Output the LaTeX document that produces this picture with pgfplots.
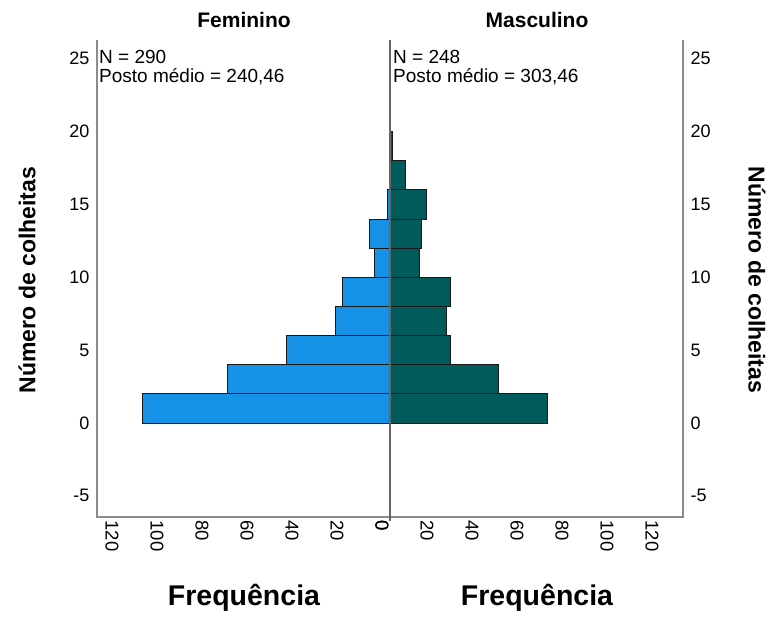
\documentclass[border=0pt]{standalone}
\usepackage{fontspec}
\setmainfont{Liberation Sans}
\usepackage{pgfplots}
\pgfplotsset{compat=1.18}

\definecolor{fem}{HTML}{1591E6}
\definecolor{masc}{HTML}{005B5A}
\definecolor{framegray}{HTML}{8C8C8C}
\definecolor{midgray}{HTML}{666666}

\newcommand{\fs}[1]{\fontsize{#1}{#1}\selectfont}

\pgfplotsset{
  pyramid/.style={
    scale only axis, width=293pt, height=477pt,
    xmin=0, xmax=130.2, ymin=-6.45, ymax=26.29,
    xtick={0,20,...,120}, ytick={-5,0,...,25},
    major tick length=0pt,
    separate axis lines,
    axis line style={draw=none},
    tick label style={font=\fs{18}},
    /pgf/number format/assume math mode=true,
    xticklabel style={font=\fs{18.5}, rotate=-90, anchor=west, yshift=-8pt},
    clip=false,
  },
  barstyle/.style={xbar, bar width=2, draw=black!90, line width=1pt},
}

\begin{document}
\begin{tikzpicture}
\path[use as bounding box] (0pt,0pt) rectangle (770pt,616pt);

% Feminino (left half, frequency grows to the left)
\begin{axis}[pyramid, at={(97pt,99pt)}, anchor=south west, x dir=reverse,
    yticklabel style={xshift=-4pt}]
  \addplot[barstyle, fill=fem] coordinates {
    (110,1) (72,3) (46,5) (24,7) (21,9) (7,11) (9,13) (1,15)
  };
  \draw[framegray, line width=1.2pt]
    (axis description cs:0,1) -- (axis description cs:0,0) -- (axis description cs:1,0);
\end{axis}

% Masculino (right half)
\begin{axis}[pyramid, at={(390pt,99pt)}, anchor=south west,
    yticklabel pos=right, yticklabel style={xshift=4pt}]
  \addplot[barstyle, fill=masc] coordinates {
    (70,1) (48,3) (27,5) (25,7) (27,9) (13,11) (14,13) (16,15) (7,17) (1,19)
  };
  \draw[framegray, line width=1.2pt]
    (axis description cs:0,0) -- (axis description cs:1,0) -- (axis description cs:1,1);
  \draw[midgray, line width=1.4pt]
    ([yshift=-4pt]axis description cs:0,0) -- (axis description cs:0,1);
\end{axis}

% Panel titles
\node[font=\fs{21}\bfseries] at (244pt,596pt) {Feminino};
\node[font=\fs{21}\bfseries] at (537pt,596pt) {Masculino};

% Group statistics
\node[anchor=north west, inner sep=0pt, align=left, font=\fs{19}]
  at (99pt,566pt) {N = 290\\[0pt]Posto médio = 240,46};
\node[anchor=north west, inner sep=0pt, align=left, font=\fs{19}]
  at (393pt,566pt) {N = 248\\[0pt]Posto médio = 303,46};

% Axis titles
\node[rotate=90, font=\fs{23}\bfseries] at (27pt,336pt) {Número de colheitas};
\node[rotate=-90, font=\fs{23}\bfseries] at (757pt,336pt) {Número de colheitas};
\node[font=\fs{28.5}\bfseries] at (244pt,18pt) {Frequência};
\node[font=\fs{28.5}\bfseries] at (537pt,18pt) {Frequência};
\end{tikzpicture}
\end{document}
